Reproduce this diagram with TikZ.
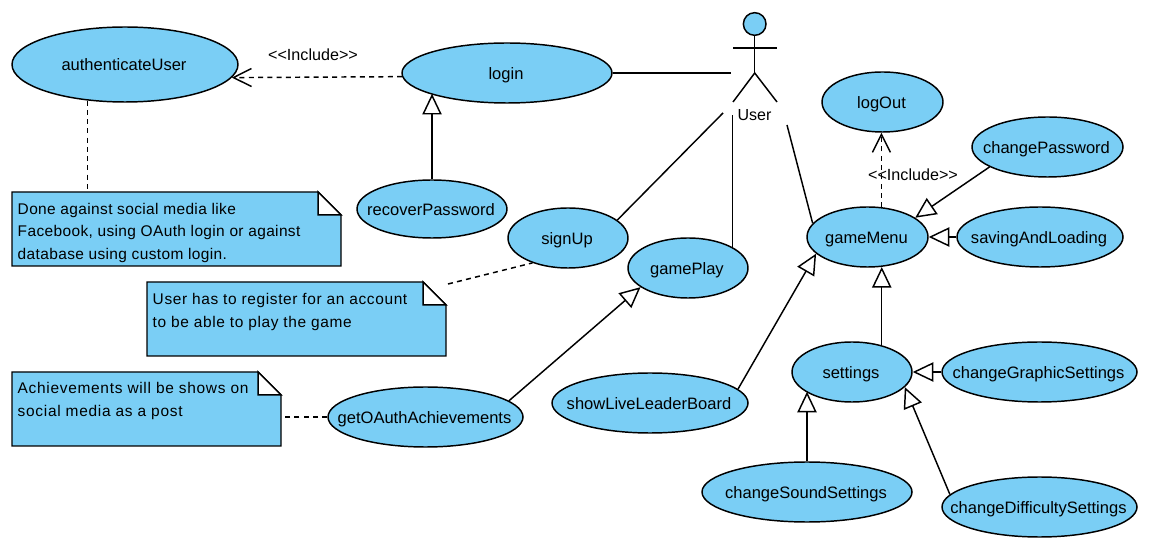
\documentclass[tikz,border=0pt]{standalone}
\usepackage{fontspec}
\setmainfont{Liberation Sans}
\usetikzlibrary{arrows.meta,shapes.geometric}
\definecolor{ucblue}{RGB}{122,206,245}
\newcommand{\uct}[1]{\makebox[0pt]{\kern-1.5pt\raisebox{-4.7pt}[0pt][0pt]{#1}}}
\tikzset{
  lab/.style={inner sep=0pt},
  uc/.style n args={2}{ellipse,draw,fill=ucblue,inner sep=0pt,minimum width=#1*0.75pt,minimum height=#2*0.75pt,font=\fontsize{12.4}{14}\selectfont},
  notebox/.style n args={2}{rectangle,inner sep=0pt,outer sep=0pt,minimum width=#1*0.75pt,minimum height=#2*0.75pt},
  noteshape/.style={draw,fill=ucblue,line join=miter},
  foldshape/.style={draw,fill=white,line join=miter},
  notetext/.style={anchor=north west,align=left,inner sep=0pt},
  dashline/.style={dash pattern=on 3.75pt off 3.2pt},
  assoc/.style={draw},
  gen/.style={-{Triangle[length=15.5pt,width=14.5pt,fill=white]}},
  incl/.style={dashline,-{Straight Barb[length=13.5pt,width=13.5pt]}},
}
\newcommand{\notedraw}[1]{%
  \draw[noteshape] (#1.north west) -- ([xshift=-17.2pt]#1.north east) -- ([yshift=-17.2pt]#1.north east) -- (#1.south east) -- (#1.south west) -- cycle;
  \draw[foldshape] ([xshift=-17.2pt]#1.north east) -- ([yshift=-17.2pt]#1.north east) -- ([xshift=-17.2pt,yshift=-17.2pt]#1.north east) -- cycle;
}
\begin{document}
\begin{tikzpicture}[x=0.75pt,y=-0.75pt,line width=1.1pt]
\useasboundingbox (0,0) rectangle (1149,548);
% use cases
\node[uc={226}{75}] (auth) at (125,64.5) {\uct{authenticateUser}};
\node[uc={210}{60}] (login) at (507,73) {\uct{login}};
\node[uc={150}{58}] (recover) at (432,209) {\uct{recoverPassword}};
\node[uc={120}{60}] (signup) at (568,238) {\uct{signUp}};
\node[uc={120}{60}] (gameplay) at (688,268) {\uct{gamePlay}};
\node[uc={121}{60}] (logout) at (882.5,102) {\uct{logOut}};
\node[uc={151}{60}] (changepw) at (1047.5,147) {\uct{changePassword}};
\node[uc={121}{60}] (gamemenu) at (867.5,237) {\uct{gameMenu}};
\node[uc={166}{60}] (saving) at (1040,237) {\uct{savingAndLoading}};
\node[uc={120}{60}] (settings) at (852,372) {\uct{settings}};
\node[uc={195}{60}] (graphic) at (1039.5,372) {\uct{changeGraphicSettings}};
\node[uc={210}{60}] (sound) at (807,492) {\uct{changeSoundSettings}};
\node[uc={195}{60}] (difficulty) at (1039.5,507) {\uct{changeDifficultySettings}};
\node[uc={196}{60}] (showlive) at (650,403) {\uct{showLiveLeaderBoard}};
\node[uc={195}{60}] (oauth) at (425.5,417) {\uct{getOAuthAchievements}};
% notes
\node[notebox={329}{74}] (note1) at (176.5,229) {};
\notedraw{note1}
\node[notetext,font=\addfontfeature{LetterSpace=2.4}\fontsize{11.6}{16.8}\selectfont] (note1t) at (17,202.5) {Done against social media like\\Facebook, using OAuth login or against\\database using custom login.};
\node[notebox={299}{74}] (note2) at (296.5,319) {};
\notedraw{note2}
\node[notetext,font=\addfontfeature{LetterSpace=4}\fontsize{11.6}{16.8}\selectfont] (note2t) at (152,293) {User has to register for an account\\to be able to play the game};
\node[notebox={269}{74}] (note3) at (146.5,409) {};
\notedraw{note3}
\node[notetext,font=\addfontfeature{LetterSpace=4.5}\fontsize{11.6}{16.8}\selectfont] (note3t) at (17,382) {Achievements will be shows on\\social media as a post};
% actor
\node[circle,draw,fill=ucblue,inner sep=0pt,minimum size=17pt] (head) at (754.7,24) {};
\coordinate (hip) at (754.7,73);
\coordinate (armL) at (733,48);
\coordinate (armR) at (777,48);
\coordinate (footL) at (733,102);
\coordinate (footR) at (777,102);
\draw (head.south) -- (hip);
\draw (armL) -- (armR);
\draw (footL) -- (hip) -- (footR);
\node[lab,font=\fontsize{12}{14}\selectfont] (user) at (754.5,115.5) {User};
% actor connector ends
\coordinate (a1) at (731,73);
\coordinate (a2) at (723,113);
\coordinate (a3) at (731,115);
\coordinate (a4) at (787,125);
\draw[assoc] (login.east) -- (a1);
\draw[assoc] (signup.20) -- (a2);
\draw[assoc] (gameplay.25.9) -- (gameplay.25.9 |- a3);
\draw[assoc] (gamemenu.166.6) -- (a4);
% include
\draw[incl] (login.182.2) -- (auth.353.3);
\draw[incl] (gamemenu.65.2) -- (gamemenu.65.2 |- logout.269);
\node[lab,font=\fontsize{12.1}{14}\selectfont] (inc1) at (313,55) {<{}<Include>{}>};
\node[lab,font=\fontsize{12.1}{14}\selectfont] (inc2) at (913,175) {<{}<Include>{}>};
% generalisations
\draw[gen] (recover.north) -- (recover.north |- login.195.6);
\draw[gen] (changepw.199) -- (gamemenu.22.4);
\draw[gen] (saving.west) -- (gamemenu.east);
\draw[gen] (settings.42.2) -- (settings.42.2 |- gamemenu.294.8);
\draw[gen] (graphic.west) -- (settings.east);
\draw[gen] (sound.north) -- (sound.north |- settings.203.7);
\draw[gen] (difficulty.172) -- (settings.344);
\draw[gen] (showlive.9.5) -- (gamemenu.198.1);
\draw[gen] (oauth.11.4) -- (gameplay.202.8);
% note links
\draw[dashline] (auth.224.6) -- (auth.224.6 |- note1.north);
\draw[dashline] ([xshift=1.5pt,yshift=-1.5pt]note2.north east) -- (signup.215);
\draw[dashline] (oauth.180) -- (oauth.180 -| note3.east);
\end{tikzpicture}
\end{document}
